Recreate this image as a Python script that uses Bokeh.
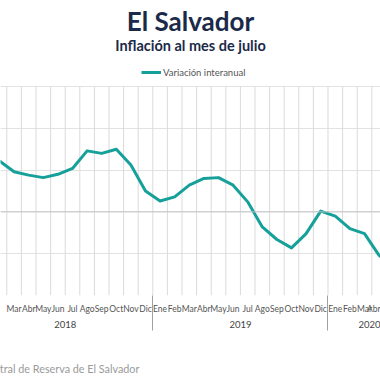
from bokeh.plotting import figure
from bokeh.models import (Range1d, FixedTicker, LinearAxis, Legend, LegendItem,
                          Title, Label, Span, ColumnDataSource)
from bokeh.embed import file_html
from bokeh.resources import INLINE

# ---- data -------------------------------------------------------------
months = ["Ene", "Feb", "Mar", "Abr", "May", "Jun",
          "Jul", "Ago", "Sep", "Oct", "Nov", "Dic"]
years = ["2018", "2019", "2020"]
months_per_year = [12, 12, 7]
# year-on-year inflation (%), Jan 2018 .. Jul 2020
variacion = [1.50, 1.22, 0.96, 0.88, 0.82, 0.90, 1.04, 1.46, 1.40, 1.50, 1.12, 0.50,
             0.26, 0.36, 0.64, 0.80, 0.82, 0.64, 0.24, -0.36, -0.66, -0.86, -0.52, 0.02,
             -0.10, -0.40, -0.52, -1.04, -1.30, -1.40, -1.30]
y_grid = [-2, -1, 0, 1, 2, 3]

FONT = "Lato"
TEAL = "#16a09a"
NAVY = "#1b2a48"
GRID = "#dadada"

labels = []
for n in months_per_year:
    labels += months[:n]
idx = list(range(len(variacion)))

src = ColumnDataSource(dict(x=idx, y=variacion))

FH = 295          # frame height in px (title band + value band)
FW = 380
PX_PER_UNIT = 41.8
y_lo, y_hi = y_grid[0], y_grid[-1]
p = figure(frame_width=FW, frame_height=FH, output_backend="svg", toolbar_location=None,
           x_range=Range1d(1.0685, 27.096), y_range=Range1d(y_lo, y_lo + FH / PX_PER_UNIT),
           min_border_left=0, min_border_right=0, min_border_top=0, min_border_bottom=0,
           outline_line_color=None)

# vertical grid lines at the month boundaries, only inside the value band
bounds = [i - 0.5 for i in range(len(idx) + 1)]
p.segment(x0=bounds, x1=bounds, y0=[y_lo] * len(bounds), y1=[y_hi] * len(bounds),
          line_color=GRID, line_width=1)
p.xgrid.visible = False

p.ygrid.ticker = FixedTicker(ticks=y_grid[1:])
p.ygrid.grid_line_color = "#e2e2e2"
p.add_layout(Span(location=0, dimension="width", line_color="#c4c4c4", line_width=1))

r = p.line("x", "y", source=src, line_color=TEAL, line_width=3, line_join="round")

p.yaxis.visible = False

# month axis
xa = p.xaxis[0]
xa.ticker = FixedTicker(ticks=idx)
xa.major_label_overrides = {i: labels[i] for i in idx}
xa.axis_line_color = None
xa.major_tick_line_color = None
xa.major_tick_out = 0
xa.minor_tick_line_color = None
xa.major_label_standoff = 8
xa.major_label_text_font = FONT
xa.major_label_text_font_size = "8.5px"
xa.major_label_text_color = "#555555"

# year axis
centers = []
start = 0
for n in months_per_year:
    centers.append(start + (n - 1) / 2)
    start += n
ya = LinearAxis(ticker=FixedTicker(ticks=centers),
                major_label_overrides={c: y for c, y in zip(centers, years)})
ya.axis_line_color = None
ya.major_tick_line_color = None
ya.major_tick_out = 0
ya.minor_tick_line_color = None
ya.major_label_standoff = 4
ya.major_label_text_font = FONT
ya.major_label_text_font_size = "9.5px"
ya.major_label_text_color = "#444444"
p.add_layout(ya, "below")

# year separators: ticks reaching up from below the year labels
seps = []
acc = 0
for n in months_per_year[:-1]:
    acc += n
    seps.append(acc - 0.5)
sa = LinearAxis(ticker=FixedTicker(ticks=seps),
                major_label_overrides={s: " " for s in seps})
sa.axis_line_color = None
sa.major_tick_in = 35
sa.major_tick_out = 0
sa.major_tick_line_color = "#a0a0a0"
sa.minor_tick_line_color = None
sa.major_label_standoff = 23
sa.major_label_text_font_size = "1px"
p.add_layout(sa, "below")

p.add_layout(Title(text="Fuente: Banco Central de Reserva de El Salvador", align="left",
                   offset=-90, standoff=4, text_font=FONT, text_font_size="10.8px",
                   text_font_style="normal", text_color="#9a9a9a"), "below")

# title and subtitle in the top band
p.add_layout(Label(x=FW / 2, y=FH - 20.5, x_units="screen", y_units="screen",
                   text="El Salvador", text_align="center", text_baseline="middle",
                   text_font=FONT, text_font_size="26px", text_font_style="bold",
                   text_color=NAVY))
p.add_layout(Label(x=FW / 2, y=FH - 44.5, x_units="screen", y_units="screen",
                   text="Inflación al mes de julio", text_align="center",
                   text_baseline="middle", text_font=FONT, text_font_size="14.5px",
                   text_font_style="bold", text_color=NAVY))

# legend just above the value band
legend = Legend(items=[LegendItem(label="Variación interanual", renderers=[r])],
                location=(141, FH - 78), orientation="horizontal", margin=0, padding=4,
                glyph_width=20, glyph_height=12, label_height=12, label_standoff=2,
                label_text_font=FONT, label_text_font_size="9.5px",
                label_text_color="#555555", border_line_color=None,
                background_fill_alpha=0)
p.add_layout(legend)

open("out.html", "w").write(file_html(p, INLINE))
